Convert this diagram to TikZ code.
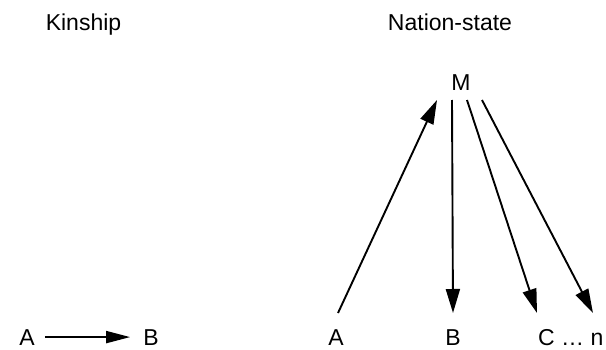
\documentclass[tikz,border=0pt]{standalone}
\usepackage{fontspec}
\setmainfont{Liberation Sans}
\usetikzlibrary{positioning,arrows.meta}
\definecolor{ink}{HTML}{000000}

\begin{document}
\begin{tikzpicture}[x=1pt,y=1pt,
    lbl/.style={font=\fontsize{23}{27}\selectfont,ink,inner sep=0pt},
    link/.style={-{Triangle[length=24pt,width=14pt]},line width=1.9pt,ink}]
        \useasboundingbox (0,0) rectangle (606,349);
        % titles
        \node[lbl,anchor=base] (kin) at (83.5,318) {Kinship};
        \node[lbl,anchor=base] (nat) at (450,318) {Nation-state};
        % kinship: one link
        \node[lbl,anchor=base] (kA) at (27,4) {A};
        \node[lbl,anchor=base] (kB) at (151,4) {B};
        \draw[link,-{Triangle[length=24pt,width=12pt]}] ([xshift=10pt]kA.east) -- ([xshift=-13pt]kB.west);
        % nation-state: all through M
        \node[lbl] (M) at (461,266) {M};
        \node[lbl,anchor=base] (nA) at (336,4) {A};
        \node[lbl,anchor=base] (nB) at (453,4) {B};
        \node[lbl,anchor=base west] (nC) at (538,4) {C \ldots\ n};
        \coordinate (mA) at (437,249);
        \coordinate (mB) at (452,249);
        \coordinate (mC) at (467,249);
        \coordinate (mN) at (482,249);
        \coordinate (eA) at (338,36);
        \coordinate (eB) at (453,36);
        \coordinate (eC) at (537,36);
        \coordinate (eN) at (593,36);
        \draw[link] (eA) -- (mA);
        \draw[link] (mB) -- (eB);
        \draw[link] (mC) -- (eC);
        \draw[link] (mN) -- (eN);
      \end{tikzpicture}
\end{document}
